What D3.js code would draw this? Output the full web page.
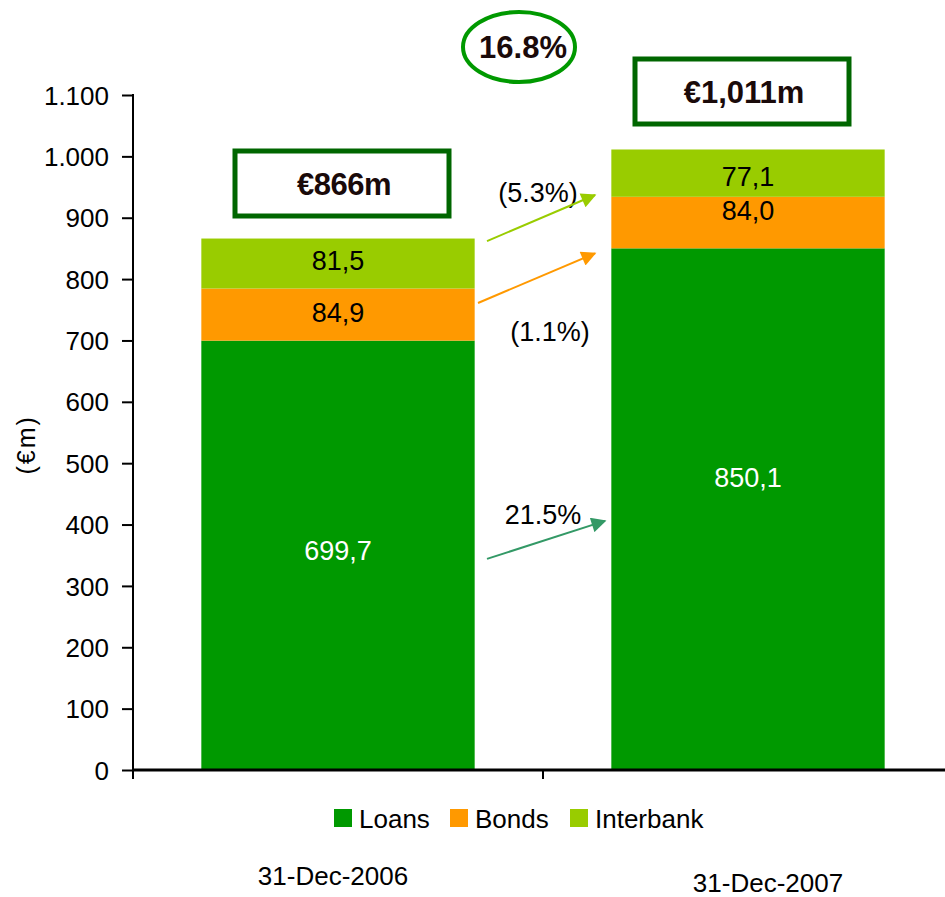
<!DOCTYPE html>
<html lang="en">
<head>
  <meta charset="UTF-8">
  <title>Assets breakdown</title>
  <script src="https://d3js.org/d3.v7.min.js"></script>
  <style>
    body { margin: 0; background: white; font-family: Arial, "Liberation Sans", sans-serif; }
    svg text { font-family: Arial, "Liberation Sans", sans-serif; }
  </style>
</head>
<body>
  <svg id="chart" width="945" height="897"></svg>

  <script>
    // data
    const categories = ["31-Dec-2006", "31-Dec-2007"];
    const seriesNames = ["Loans", "Bonds", "Interbank"];
    const loans = [699.7, 850.1];
    const bonds = [84.9, 84.0];
    const interbank = [81.5, 77.1];
    const totals = ["€866m", "€1,011m"];
    const yTicks = [0, 100, 200, 300, 400, 500, 600, 700, 800, 900, 1000, 1100];
    const growthLabels = ["21.5%", "(1.1%)", "(5.3%)"];
    const totalGrowth = "16.8%";
    const colors = {Loans: "#009900", Bonds: "#FF9900", Interbank: "#99CC00"};

    // label baseline shifts from the segment middle, [2006, 2007]
    const labelShift = {Loans: [5, -22], Bonds: [7, -3], Interbank: [6, 13]};

    const svg = d3.select("#chart");

    const y = d3.scaleLinear().domain([0, 1100]).range([770, 95]);
    const x = d3.scaleBand().domain(categories).range([133, 953])
      .paddingInner(1 / 3).paddingOuter(1 / 6);

    const rows = categories.map((c, i) => ({cat: c, Loans: loans[i], Bonds: bonds[i], Interbank: interbank[i]}));
    const stack = d3.stack().keys(seriesNames)(rows);

    // bars
    svg.append("g").selectAll("g")
      .data(stack)
      .join("g")
      .attr("fill", d => colors[d.key])
      .selectAll("rect")
      .data(d => d)
      .join("rect")
      .attr("x", d => x(d.data.cat))
      .attr("width", x.bandwidth())
      .attr("y", d => y(d[1]))
      .attr("height", d => y(d[0]) - y(d[1]));

    // value labels
    svg.append("g").selectAll("g")
      .data(stack)
      .join("g")
      .attr("fill", d => d.key === "Loans" ? "white" : "black")
      .each(function(s) {
        d3.select(this).selectAll("text")
          .data(s)
          .join("text")
          .attr("x", d => x(d.data.cat) + x.bandwidth() / 2)
          .attr("y", (d, i) => (y(d[0]) + y(d[1])) / 2 + labelShift[s.key][i])
          .attr("text-anchor", "middle")
          .attr("font-size", 27)
          .text(d => d3.format(".1f")(d.data[s.key]).replace(".", ","));
      });

    // y axis
    const yAxis = svg.append("g")
      .attr("transform", "translate(133,0)")
      .call(d3.axisLeft(y).tickValues(yTicks).tickSize(11).tickPadding(13)
        .tickFormat(d => d3.format(",")(d).replace(",", ".")));
    yAxis.select(".domain").remove();
    yAxis.selectAll("line").attr("stroke", "black").attr("stroke-width", 2);
    yAxis.selectAll("text").attr("font-size", 26).attr("fill", "black").attr("dy", "0.35em");
    svg.append("line")
      .attr("x1", 133).attr("x2", 133)
      .attr("y1", y(1100) - 1).attr("y2", 779)
      .attr("stroke", "black").attr("stroke-width", 2);

    svg.append("text")
      .attr("transform", `translate(35,${y(530)}) rotate(-90)`)
      .attr("text-anchor", "middle")
      .attr("font-size", 25)
      .attr("letter-spacing", 2)
      .text("(€m)");

    // x axis
    svg.append("line")
      .attr("x1", 133).attr("x2", 953)
      .attr("y1", y(0)).attr("y2", y(0))
      .attr("stroke", "black").attr("stroke-width", 3);
    const step = x.step();
    svg.append("g").selectAll("line")
      .data([0, 1])
      .join("line")
      .attr("x1", d => 133 + d * step).attr("x2", d => 133 + d * step)
      .attr("y1", y(0)).attr("y2", y(0) + 9)
      .attr("stroke", "black").attr("stroke-width", 2);

    // category labels (below legend)
    svg.append("g").selectAll("text")
      .data(categories)
      .join("text")
      .attr("x", (d, i) => x(d) + x.bandwidth() / 2 + (i === 0 ? -5 : 20))
      .attr("y", (d, i) => i === 0 ? 885 : 892)
      .attr("text-anchor", "middle")
      .attr("font-size", 26)
      .text(d => d);

    // legend
    const legendX = [334, 450, 570];
    const legend = svg.append("g").selectAll("g")
      .data(seriesNames)
      .join("g")
      .attr("transform", (d, i) => `translate(${legendX[i]},809)`);
    legend.append("rect").attr("width", 18).attr("height", 18).attr("fill", d => colors[d]);
    legend.append("text").attr("x", 25).attr("y", 19).attr("font-size", 26).text(d => d);

    // total boxes
    const boxY = [218, 126];
    const boxShift = [4, -6];
    categories.forEach((c, i) => {
      const cx = x(c) + x.bandwidth() / 2 + boxShift[i];
      svg.append("rect")
        .attr("x", cx - 107).attr("y", boxY[i] - 67)
        .attr("width", 214).attr("height", 65)
        .attr("fill", "white")
        .attr("stroke", "#006600").attr("stroke-width", 5);
      svg.append("text")
        .attr("x", cx + 2).attr("y", boxY[i] - 23)
        .attr("text-anchor", "middle")
        .attr("font-size", 31).attr("font-weight", "bold")
        .attr("fill", "#1a0a0a")
        .attr("letter-spacing", i === 0 ? -0.5 : 0)
        .text(totals[i]);
    });

    // total growth ellipse
    svg.append("ellipse")
      .attr("cx", 519).attr("cy", 47).attr("rx", 56).attr("ry", 35)
      .attr("fill", "white").attr("stroke", "#009900").attr("stroke-width", 4);
    svg.append("text")
      .attr("x", 523).attr("y", 58)
      .attr("text-anchor", "middle")
      .attr("font-size", 31).attr("font-weight", "bold")
      .attr("fill", "#1a0a0a")
      .text(totalGrowth);

    // growth arrows: from value on first bar to value on second bar
    const arrows = [
      {from: 344, to: 406, color: "#339966", label: growthLabels[0], lx: 543, ly: 524, x0: 487, x1: 605},
      {from: 761, to: 842, color: "#FF9900", label: growthLabels[1], lx: 550, ly: 341, x0: 478, x1: 595},
      {from: 862, to: 937, color: "#99CC00", label: growthLabels[2], lx: 538, ly: 202, x0: 487, x1: 595}
    ];
    const defs = svg.append("defs");
    arrows.forEach((a, i) => {
      defs.append("marker")
        .attr("id", "head" + i)
        .attr("viewBox", "0 0 10 10")
        .attr("refX", 9).attr("refY", 5)
        .attr("markerWidth", 18).attr("markerHeight", 15)
        .attr("markerUnits", "userSpaceOnUse")
        .attr("orient", "auto")
        .append("path").attr("d", "M0,0 L10,5 L0,10 Z").attr("fill", a.color);
    });
    svg.append("g").selectAll("text")
      .data(arrows)
      .join("text")
      .attr("x", d => d.lx).attr("y", d => d.ly)
      .attr("text-anchor", "middle")
      .attr("font-size", 27)
      .text(d => d.label);
    svg.append("g").selectAll("line")
      .data(arrows)
      .join("line")
      .attr("x1", d => d.x0).attr("y1", d => y(d.from))
      .attr("x2", d => d.x1).attr("y2", d => y(d.to))
      .attr("stroke", d => d.color).attr("stroke-width", 2)
      .attr("marker-end", (d, i) => `url(#head${i})`);
  </script>
</body>
</html>
